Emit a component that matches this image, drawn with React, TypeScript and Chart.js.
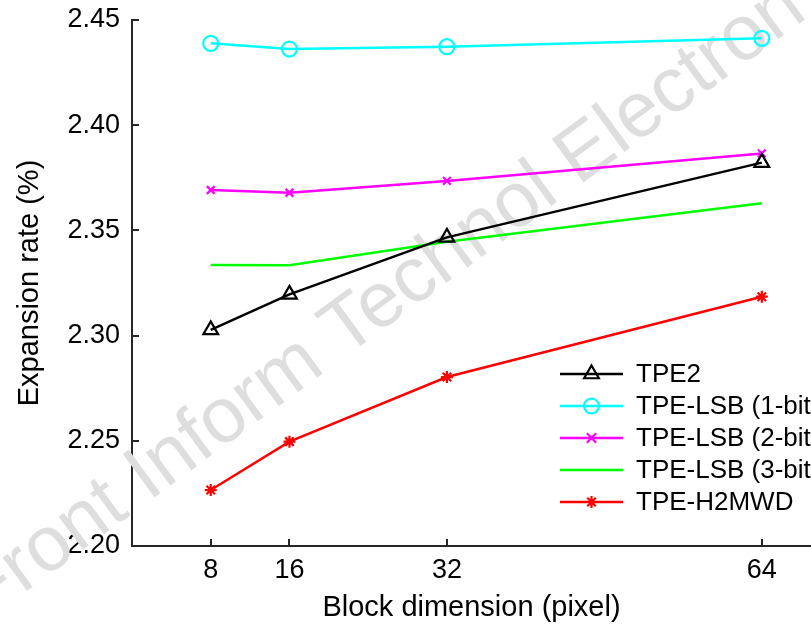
import React, { useEffect, useRef } from 'react';
import { Chart, registerables } from 'chart.js';

Chart.register(...registerables);

const blockSizes = [8, 16, 32, 64];
const xTickValues = [8, 16, 32, 64];
const yTickValues = [2.2, 2.25, 2.3, 2.35, 2.4, 2.45];

const seriesLabels = ['TPE2', 'TPE-LSB (1-bit)', 'TPE-LSB (2-bit)', 'TPE-LSB (3-bit)', 'TPE-H2MWD'];
const tpe2 = [2.3027, 2.3196, 2.3467, 2.3822];
const lsb1 = [2.4389, 2.4362, 2.4373, 2.4413];
const lsb2 = [2.3692, 2.3679, 2.3735, 2.3866];
const lsb3 = [2.3336, 2.3334, 2.3446, 2.3629];
const h2mwd = [2.2266, 2.2496, 2.2803, 2.3185];

const seriesValues = [tpe2, lsb1, lsb2, lsb3, h2mwd];
const seriesColors = ['#000000', '#00FFFF', '#FF00FF', '#00FF00', '#FF0000'];
const seriesMarkers = ['triangle', 'circle', 'crossRot', 'none', 'star'];
const seriesMarkerRadius = [8.5, 7.5, 5.5, 0, 6];

const watermarkText = 'Front Inform Technol Electron';

const FONT = '"Liberation Sans", Arial, Helvetica, sans-serif';
const AXIS_COLOR = '#262626';

function drawMarker(ctx: CanvasRenderingContext2D, style: string, x: number, y: number, r: number, color: string) {
  if (style === 'none' || r <= 0) return;
  ctx.save();
  ctx.strokeStyle = color;
  ctx.lineWidth = 2.2;
  ctx.beginPath();
  if (style === 'triangle') {
    let rad = 0;
    ctx.moveTo(x + Math.sin(rad) * r, y - Math.cos(rad) * r);
    rad += (2 * Math.PI) / 3;
    ctx.lineTo(x + Math.sin(rad) * r, y - Math.cos(rad) * r);
    rad += (2 * Math.PI) / 3;
    ctx.lineTo(x + Math.sin(rad) * r, y - Math.cos(rad) * r);
    ctx.closePath();
  } else if (style === 'circle') {
    ctx.arc(x, y, r, 0, Math.PI * 2);
  } else if (style === 'crossRot') {
    const d = r * Math.SQRT1_2 * 1.2;
    ctx.moveTo(x - d, y - d);
    ctx.lineTo(x + d, y + d);
    ctx.moveTo(x - d, y + d);
    ctx.lineTo(x + d, y - d);
  } else if (style === 'star') {
    for (let k = 0; k < 4; k++) {
      const a = (k * Math.PI) / 4;
      ctx.moveTo(x - Math.cos(a) * r, y - Math.sin(a) * r);
      ctx.lineTo(x + Math.cos(a) * r, y + Math.sin(a) * r);
    }
  }
  ctx.stroke();
  ctx.restore();
}

const customPlugin = {
  id: 'customDecor',
  beforeDatasetsDraw(chart: any) {
    const { ctx } = chart;
    ctx.save();
    ctx.translate(384, 302);
    ctx.rotate((-36.3 * Math.PI) / 180);
    ctx.font = `78px ${FONT}`;
    ctx.fillStyle = '#dedede';
    ctx.textAlign = 'center';
    ctx.textBaseline = 'middle';
    ctx.fillText(watermarkText, 0, 0);
    ctx.restore();
  },
  afterDatasetsDraw(chart: any) {
    const { ctx, chartArea } = chart;
    const xs = chart.scales.x;
    const ys = chart.scales.y;
    const tickLen = 7;
    ctx.save();
    ctx.strokeStyle = AXIS_COLOR;
    ctx.lineWidth = 2;
    ctx.beginPath();
    xs.ticks.forEach((t: any) => {
      const px = Math.round(xs.getPixelForValue(t.value));
      ctx.moveTo(px, chartArea.bottom);
      ctx.lineTo(px, chartArea.bottom - tickLen);
    });
    ys.ticks.forEach((t: any) => {
      const py = Math.round(ys.getPixelForValue(t.value));
      ctx.moveTo(chartArea.left, py);
      ctx.lineTo(chartArea.left + tickLen, py);
    });
    ctx.stroke();
    ctx.restore();

    // legend
    const legendTop = 374;
    const rowGap = 32;
    const lineX0 = 560;
    const lineLen = 63;
    chart.data.datasets.forEach((ds: any, i: number) => {
      const y = legendTop + i * rowGap;
      ctx.save();
      ctx.strokeStyle = ds.borderColor;
      ctx.lineWidth = ds.borderWidth;
      ctx.beginPath();
      ctx.moveTo(lineX0, y);
      ctx.lineTo(lineX0 + lineLen, y);
      ctx.stroke();
      ctx.restore();
      drawMarker(ctx, seriesMarkers[i], lineX0 + lineLen / 2, y, seriesMarkerRadius[i], ds.borderColor);
      ctx.save();
      ctx.font = `26px ${FONT}`;
      ctx.fillStyle = '#000000';
      ctx.textAlign = 'left';
      ctx.textBaseline = 'middle';
      ctx.fillText(ds.label, lineX0 + lineLen + 13, y + 1);
      ctx.restore();
    });
  },
};

export default function App() {
  const canvasRef = useRef<HTMLCanvasElement | null>(null);

  useEffect(() => {
    document.body.style.margin = '0';
    const canvas = canvasRef.current;
    if (!canvas) return;
    const datasets = seriesLabels.map((label, i) => ({
      label,
      data: seriesValues[i].map((v, j) => ({ x: blockSizes[j], y: v })),
      borderColor: seriesColors[i],
      backgroundColor: 'rgba(0,0,0,0)',
      borderWidth: 2.5,
      pointStyle: seriesMarkers[i] === 'none' ? false : seriesMarkers[i],
      pointRadius: seriesMarkerRadius[i],
      pointHoverRadius: seriesMarkerRadius[i],
      pointBorderWidth: 2.2,
      pointBorderColor: seriesColors[i],
      pointBackgroundColor: 'rgba(0,0,0,0)',
      tension: 0,
      fill: false,
      clip: false as any,
    }));

    const chart = new Chart(canvas, {
      type: 'line',
      data: { datasets },
      plugins: [customPlugin],
      options: {
        animation: false,
        responsive: false,
        maintainAspectRatio: false,
        devicePixelRatio: 1,
        layout: { autoPadding: false, padding: { top: 20, right: 0, left: 0, bottom: 0 } },
        plugins: {
          legend: { display: false },
          tooltip: { enabled: false },
        },
        scales: {
          x: {
            type: 'linear',
            min: 0,
            max: 69,
            afterBuildTicks: (s: any) => {
              s.ticks = xTickValues.map((v) => ({ value: v }));
            },
            afterFit: (s: any) => {
              s.height = 79;
              s.paddingLeft = 0;
              s.paddingRight = 0;
            },
            grid: { display: false, drawTicks: false },
            border: { display: true, color: AXIS_COLOR, width: 2 },
            ticks: {
              font: { family: FONT, size: 27 },
              color: '#000000',
              padding: 8,
              maxRotation: 0,
              autoSkip: false,
              callback: (v: any) => String(v),
            },
            title: {
              display: true,
              text: 'Block dimension (pixel)',
              font: { family: FONT, size: 29 },
              color: '#000000',
              padding: { top: 0, bottom: 0 },
            },
          },
          y: {
            type: 'linear',
            min: 2.2,
            max: 2.45,
            afterBuildTicks: (s: any) => {
              s.ticks = yTickValues.map((v) => ({ value: v }));
            },
            afterFit: (s: any) => {
              s.width = 132;
              s.paddingTop = 0;
              s.paddingBottom = 0;
            },
            grid: { display: false, drawTicks: false },
            border: { display: true, color: AXIS_COLOR, width: 2 },
            ticks: {
              font: { family: FONT, size: 27 },
              color: '#000000',
              padding: 12,
              autoSkip: false,
              callback: (v: any) => Number(v).toFixed(2),
            },
            title: {
              display: true,
              text: 'Expansion rate (%)',
              font: { family: FONT, size: 29 },
              color: '#000000',
              padding: { top: 13, bottom: 0 },
            },
          },
        },
      },
    });
    return () => chart.destroy();
  }, []);

  return (
    <div style={{ width: 811, height: 625, background: '#ffffff' }}>
      <canvas ref={canvasRef} width={811} height={625} style={{ display: 'block', width: 811, height: 625 }} />
    </div>
  );
}
